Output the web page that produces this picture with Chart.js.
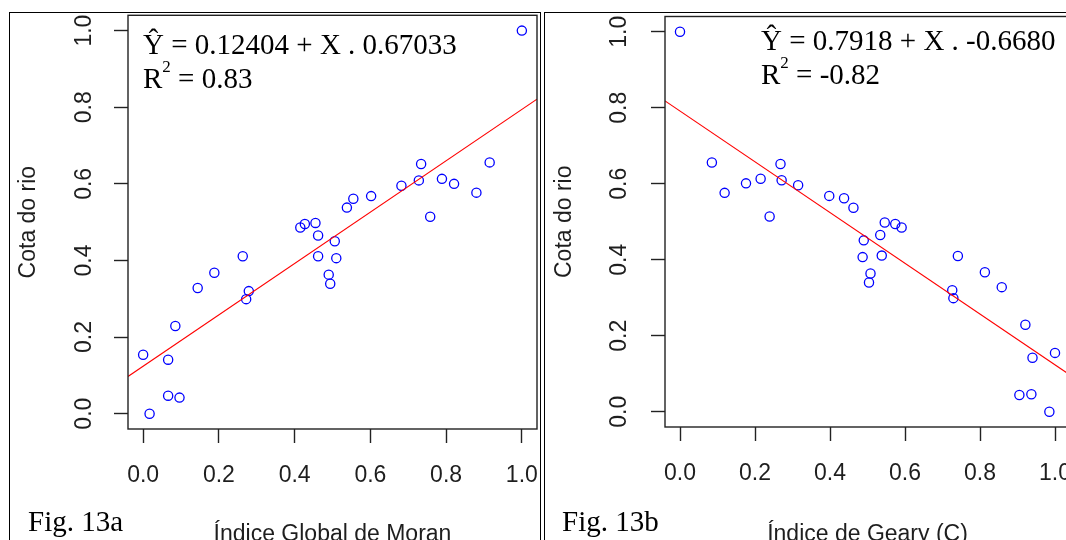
<!DOCTYPE html>
<html><head><meta charset="utf-8">
<script src="https://cdn.jsdelivr.net/npm/chart.js@4.4.1/dist/chart.umd.min.js"></script>
<style>
html,body{margin:0;padding:0;background:#fff;overflow:hidden;width:1066px;height:540px;}
#stage{position:relative;width:1066px;height:540px;overflow:hidden;background:#fff;}
.panel{position:absolute;border:1.4px solid #000;box-sizing:border-box;}
canvas{position:absolute;top:0;}
.eq{position:absolute;font-family:"Liberation Serif","Times New Roman",serif;font-size:29px;line-height:34px;color:#000;white-space:nowrap;}
.fig{position:absolute;font-family:"Liberation Serif","Times New Roman",serif;font-size:29px;line-height:29px;color:#000;white-space:nowrap;}
.eq sup{font-size:17px;position:relative;top:-3px;vertical-align:top;line-height:17px;}
</style></head><body>
<div id="stage">
  <div class="panel" style="left:9px;top:12px;width:532px;height:600px"></div>
  <div class="panel" style="left:544px;top:12px;width:600px;height:600px"></div>
  <canvas id="c1" width="543" height="560" style="left:0px;width:543px;height:560px"></canvas>
  <canvas id="c2" width="535" height="560" style="left:545px;width:535px;height:560px"></canvas>
  <div class="eq" style="left:143px;top:27px">Ŷ = 0.12404 + X . 0.67033<br>R<sup>2</sup> = 0.83</div>
  <div class="eq" style="left:761px;top:23px">Ŷ = 0.7918 + X . -0.6680<br>R<sup>2</sup> = -0.82</div>
  <div class="fig" style="left:28px;top:507px">Fig. 13a</div>
  <div class="fig" style="left:562px;top:507px">Fig. 13b</div>
</div>
<script>
// ---- data ----
const cotaRio = [1.0,0.652,0.656,0.609,0.595,0.613,0.600,0.577,0.514,0.568,0.561,0.538,0.486,0.495,0.498,0.465,0.450,0.411,0.406,0.363,0.339,0.411,0.368,0.328,0.320,0.299,0.229,0.154,0.141,0.047,0.042,0.0];
const moranX  = [1.0,0.734,0.915,0.728,0.682,0.789,0.821,0.880,0.758,0.602,0.555,0.538,0.415,0.427,0.455,0.462,0.506,0.462,0.510,0.490,0.494,0.263,0.188,0.144,0.279,0.272,0.085,0.0,0.066,0.066,0.096,0.017];
const cotaRioB = [1.0,0.656,0.576,0.601,0.613,0.514,0.652,0.609,0.596,0.568,0.562,0.537,0.498,0.494,0.485,0.465,0.451,0.407,0.411,0.364,0.340,0.410,0.367,0.328,0.320,0.299,0.229,0.155,0.142,0.044,0.046,0.0];
const gearyX  = [0.0,0.085,0.119,0.176,0.215,0.239,0.268,0.271,0.315,0.398,0.4375,0.4625,0.546,0.574,0.591,0.534,0.490,0.487,0.538,0.508,0.504,0.741,0.813,0.858,0.726,0.729,0.921,1.0,0.940,0.905,0.937,0.985];
const lineMoranX = [-0.04, 1.04];
const lineMoranY = [0.097, 0.821];
const lineGearyX = [-0.04, 1.04];
const lineGearyY = [0.818, 0.097];
const tickValues = [0, 0.2, 0.4, 0.6, 0.8, 1.0];
const tickLabels = ['0.0','0.2','0.4','0.6','0.8','1.0'];
const yTitle = 'Cota do rio';
const xTitleA = 'Índice Global de Moran';
const xTitleB = 'Índice de Geary (C)';

const SANS = "'Liberation Sans', Arial, sans-serif";
const TXT = '#1e1e1e';

const boxPlugin = {
  id: 'box',
  afterDatasetsDraw(chart) {
    const {ctx, chartArea: a} = chart;
    ctx.save();
    ctx.strokeStyle = '#222';
    ctx.lineWidth = 1.4;
    ctx.strokeRect(a.left, a.top, a.right - a.left, a.bottom - a.top);
    ctx.restore();
  }
};

function pts(xs, ys) { return xs.map((x, i) => ({x: x, y: ys[i]})); }

function makeChart(id, xs, ys, lx, ly, xTitle, g) {
  const setTicks = s => { s.ticks = tickValues.map(v => ({value: v})); };
  const lbl = (v, i) => tickLabels[i];
  new Chart(document.getElementById(id), {
    type: 'scatter',
    data: {
      datasets: [
        {data: pts(lx, ly), showLine: true, borderColor: '#ff0000', borderWidth: 1.1, pointRadius: 0, fill: false},
        {data: pts(xs, ys), borderColor: '#0000ff', backgroundColor: 'rgba(0,0,0,0)', pointRadius: 4.6, pointBorderWidth: 1.3, pointStyle: 'circle'}
      ]
    },
    options: {
      responsive: false, animation: false, devicePixelRatio: 1,
      layout: {padding: {left: 0, top: g.top, right: g.padRight, bottom: 0}},
      plugins: {legend: {display: false}, tooltip: {enabled: false}},
      scales: {
        x: {
          type: 'linear', min: -0.04, max: 1.04,
          afterBuildTicks: setTicks,
          afterFit: s => { s.height = g.xH; s.paddingLeft = 0; s.paddingRight = 0; s.paddingTop = 0; s.paddingBottom = 0; },
          ticks: {callback: lbl, font: {family: SANS, size: 23}, color: TXT, padding: g.xPad, includeBounds: false, autoSkip: false, maxRotation: 0},
          grid: {display: true, drawOnChartArea: false, drawTicks: true, tickLength: 14, tickColor: '#222', tickWidth: 1.4},
          border: {display: false},
          title: {display: true, text: xTitle, font: {family: SANS, size: 23}, color: TXT, padding: {top: 0, bottom: g.xTitlePad}}
        },
        y: {
          type: 'linear', min: -0.04, max: 1.04,
          afterBuildTicks: setTicks,
          afterFit: s => { s.width = g.yW; s.paddingLeft = 0; s.paddingRight = 0; s.paddingTop = 0; s.paddingBottom = 0; },
          ticks: {callback: lbl, font: {family: SANS, size: 23}, color: TXT, padding: g.yPad, includeBounds: false, autoSkip: false, minRotation: 90, maxRotation: 90, crossAlign: 'center'},
          grid: {display: true, drawOnChartArea: false, drawTicks: true, tickLength: 14, tickColor: '#222', tickWidth: 1.4},
          border: {display: false},
          title: {display: true, text: yTitle, font: {family: SANS, size: 23}, color: TXT, padding: {top: g.yTitlePad, bottom: 0}}
        }
      }
    },
    plugins: [boxPlugin]
  });
}

makeChart('c1', moranX, cotaRio, lineMoranX, lineMoranY, xTitleA,
  {top: 15.3, padRight: 6, xH: 131, yW: 128, xPad: 19, yPad: 13.5, xTitlePad: 12, yTitlePad: 14.7});
makeChart('c2', gearyX, cotaRioB, lineGearyX, lineGearyY, xTitleB,
  {top: 16.5, padRight: 10, xH: 133, yW: 120, xPad: 19, yPad: 15, xTitlePad: 12, yTitlePad: 6.2});
</script>
</body></html>
